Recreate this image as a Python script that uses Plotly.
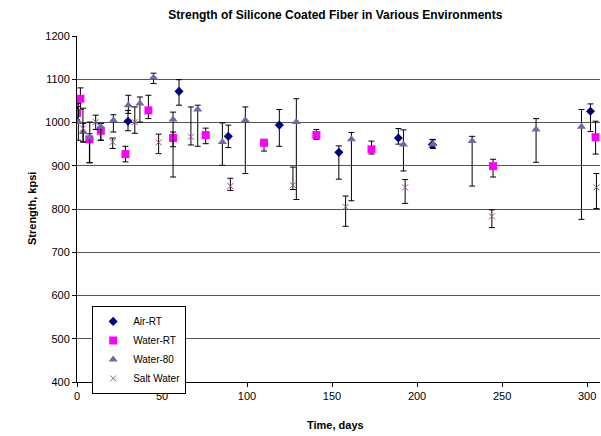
import plotly.graph_objects as go

# ---- data (days, strength kpsi, error +, error -) ----
air_days = [0, 30, 60, 89, 119, 154, 189, 209, 302]
air_vals = [1025, 1003, 1072, 968, 994, 931, 964, 949, 1026]
air_ep = [20, 25, 27, 26, 36, 15, 22, 12, 17]
air_em = [20, 22, 32, 26, 49, 62, 14, 7, 47]

wrt_days = [0, 2, 7.3, 14, 28.5, 42, 56.5, 75.7, 110, 140.8, 173.2, 244.7, 305]
wrt_vals = [1022, 1055, 961, 981, 927, 1028, 964, 971, 953, 971, 938, 899, 966]
wrt_ep = [15, 25, 13, 17, 18, 35, 14, 16, 8, 13, 19, 16, 37]
wrt_em = [15, 25, 54, 22, 18, 19, 20, 20, 19, 10, 11, 25, 39]

w80_days = [0.8, 3.7, 7.5, 14, 21.4, 30.2, 37, 45, 56.5, 71, 85.5, 99, 129, 161.4, 192, 209.4, 232.4, 270, 296.7]
w80_vals = [1001, 978, 965, 990, 1005, 1040, 1044, 1104, 1007, 1030, 955, 1005, 1001, 961, 949, 950, 957, 984, 990]
w80_ep = [43, 20, 36, 8, 13, 23, 15, 10, 17, 10, 44, 31, 54, 16, 34, 10, 11, 25, 40]
w80_em = [42, 23, 58, 31, 27, 19, 43, 14, 133, 85, 54, 123, 179, 142, 61, 10, 104, 76, 214]

salt_days = [3.5, 11, 21, 34, 48, 67, 90.2, 127, 158, 193, 244, 305.5]
salt_vals = [986, 1001, 955, 1001, 954, 967, 853, 855, 805, 850, 783, 850]
salt_ep = [47, 16, 9, 35, 19, 69, 18, 42, 25, 18, 15, 32]
salt_em = [31, 17, 15, 26, 26, 19, 10, 10, 45, 37, 26, 49]

x_ticks = [0, 50, 100, 150, 200, 250, 300]
y_ticks = [400, 500, 600, 700, 800, 900, 1000, 1100, 1200]

FONT = "Liberation Sans, Arial, sans-serif"


def err(ep, em):
    return dict(type="data", symmetric=False, array=ep, arrayminus=em,
                color="black", thickness=1, width=3)


fig = go.Figure()
fig.add_trace(go.Scatter(
    x=air_days, y=air_vals, mode="markers", name="Air-RT",
    marker=dict(symbol="diamond", size=7, color="#000080"),
    error_y=err(air_ep, air_em)))
fig.add_trace(go.Scatter(
    x=wrt_days, y=wrt_vals, mode="markers", name="Water-RT",
    marker=dict(symbol="square", size=8, color="#FF00FF"),
    error_y=err(wrt_ep, wrt_em)))
fig.add_trace(go.Scatter(
    x=w80_days, y=w80_vals, mode="markers", name="Water-80",
    marker=dict(symbol="triangle-up", size=8, color="#6B6BA6"),
    error_y=err(w80_ep, w80_em)))
fig.add_trace(go.Scatter(
    x=salt_days, y=salt_vals, mode="markers", name="Salt Water",
    marker=dict(symbol="x-thin", size=6, color="#A0509C",
                line=dict(color="#A0509C", width=1)),
    error_y=err(salt_ep, salt_em)))

fig.update_layout(
    width=601, height=436,
    margin=dict(l=77, r=1, t=36, b=54, autoexpand=False),
    paper_bgcolor="white", plot_bgcolor="white",
    font=dict(family=FONT, size=11, color="black"),
    title=dict(text="<b>Strength of Silicone Coated Fiber in Various Environments</b>",
               x=0.558, xanchor="center", y=0.966, yanchor="middle",
               font=dict(family=FONT, size=12, color="black")),
    showlegend=True,
    legend=dict(x=0.029, y=0.22, xanchor="left", yanchor="top",
                bgcolor="white", bordercolor="black", borderwidth=1,
                font=dict(family=FONT, size=10, color="black"),
                tracegroupgap=0, itemwidth=30),
    annotations=[
        dict(text="<b>Time, days</b>", xref="paper", yref="paper",
             x=0.494, y=-0.125, xanchor="center", yanchor="middle",
             showarrow=False, font=dict(family=FONT, size=11)),
        dict(text="<b>Strength, kpsi</b>", xref="paper", yref="paper",
             x=-0.086, y=0.5, xanchor="center", yanchor="middle", textangle=-90,
             showarrow=False, font=dict(family=FONT, size=11)),
    ],
)

fig.update_xaxes(
    range=[0, 307.6], tickmode="array", tickvals=x_ticks,
    ticks="outside", ticklen=4, tickcolor="black",
    showline=True, linecolor="black", linewidth=1,
    showgrid=False, zeroline=False, automargin=False,
    tickfont=dict(family=FONT, size=11),
)
fig.update_yaxes(
    range=[400, 1200], tickmode="array", tickvals=y_ticks,
    ticks="outside", ticklen=4, tickcolor="black",
    showline=True, linecolor="black", linewidth=1,
    showgrid=True, gridcolor="#555555", gridwidth=1,
    zeroline=False, automargin=False,
    tickfont=dict(family=FONT, size=11),
)

fig.write_html("out.html",
               config={"displayModeBar": False},
               post_script="document.body.style.margin='0';document.body.style.overflow='hidden';")
